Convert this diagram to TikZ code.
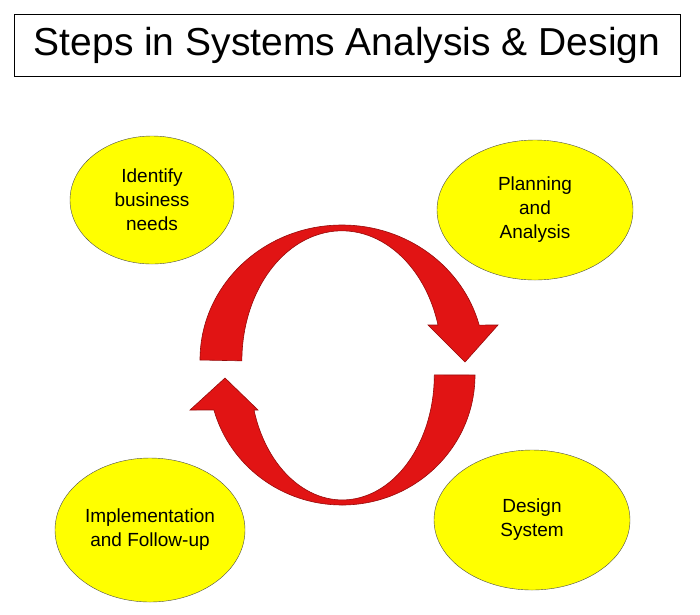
\documentclass[tikz,border=0pt]{standalone}
\usepackage{fontspec}
\setmainfont{Liberation Sans}
\usetikzlibrary{shapes.geometric}
\definecolor{stepyellow}{RGB}{255,255,0}
\definecolor{arcred}{RGB}{225,20,20}
\definecolor{arcedge}{RGB}{150,10,10}
\begin{document}
\begin{tikzpicture}[x=1pt, y=-1pt,
    stepnode/.style={ellipse, draw=black!70, fill=stepyellow, inner sep=0pt,
      align=center, font=\fontsize{19}{24}\selectfont},
    cyclearrow/.style={fill=arcred, draw=arcedge, line width=0.6pt}]
  \useasboundingbox (0,0) rectangle (700,614);
  % Titel
  \node [draw, line width=0.8pt, minimum width=666pt, minimum height=62pt,
    font=\fontsize{39}{44}\selectfont] (title) at (347,45) {Steps in Systems Analysis \& Design};

  % Schritte
  \node [stepnode, minimum width=164pt, minimum height=128pt] (identify) at (152,200) {Identify\\business\\needs};
  \node [stepnode, minimum width=196pt, minimum height=140pt] (planning) at (535,210) {Planning\\and\\Analysis};
  \node [stepnode, minimum width=196pt, minimum height=140pt] (design) at (532,520) {Design\\System};
  \node [stepnode, minimum width=190pt, minimum height=144pt] (implement) at (150,530) {Implementation\\and Follow-up};

  % Pfeile
  \fill [cyclearrow] (200,360) arc [start angle=180, end angle=345, x radius=142, y radius=135]
    -- (498,325) -- (465,362) -- (428,325) -- (438,325)
    arc [start angle=344, end angle=180, x radius=100, y radius=130] -- cycle;
  \draw [cyclearrow] (475,375) arc [start angle=0, end angle=164.4, x radius=133, y radius=130]
    -- (190,410) -- (225,378) -- (258,410) -- (254,410)
    arc [start angle=163.7, end angle=0, x radius=92, y radius=125] -- cycle;
\end{tikzpicture}
\end{document}
